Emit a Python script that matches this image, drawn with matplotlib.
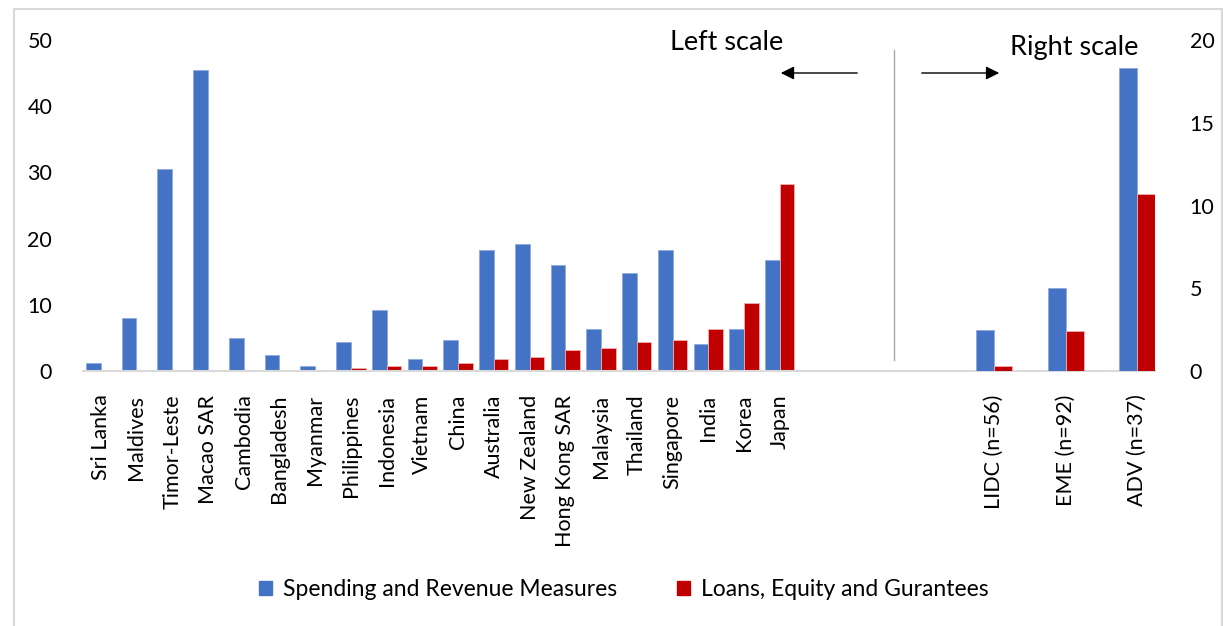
import matplotlib.pyplot as plt
import matplotlib.patches as mpatches
import numpy as np

plt.rcParams['font.family'] = ['Lato', 'DejaVu Sans']

# countries on the left scale
countries = ['Sri Lanka', 'Maldives', 'Timor-Leste', 'Macao SAR', 'Cambodia', 'Bangladesh',
             'Myanmar', 'Philippines', 'Indonesia', 'Vietnam', 'China', 'Australia',
             'New Zealand', 'Hong Kong SAR', 'Malaysia', 'Thailand', 'Singapore', 'India',
             'Korea', 'Japan']
spending = [1.2, 8.0, 30.5, 45.4, 5.0, 2.4, 0.8, 4.4, 9.2, 1.8, 4.7, 18.3,
            19.2, 16.0, 6.3, 14.8, 18.3, 4.1, 6.3, 16.7]
loans = [0.0, 0.0, 0.0, 0.0, 0.05, 0.05, 0.05, 0.45, 0.8, 0.75, 1.15, 1.8,
         2.1, 3.1, 3.4, 4.4, 4.7, 6.3, 10.2, 28.3]

# country groups on the right scale
groups = ['LIDC (n=56)', 'EME (n=92)', 'ADV (n=37)']
group_spending = [2.5, 5.0, 18.3]
group_loans = [0.3, 2.4, 10.7]

# category axis as in the spreadsheet: blank slots between the two blocks
categories = countries + [''] * 5 + [groups[0], '', groups[1], '', groups[2]]

blue = '#4472C4'
red = '#C00000'

fig = plt.figure(figsize=(12.23, 6.26), dpi=100)
W, H = 1223, 626
ax = fig.add_axes([82.8 / W, 1 - 371 / H, (1155 - 82.8) / W, (371 - 40) / H])
ax2 = ax.twinx()

xl = np.arange(len(countries))
xr = np.array([categories.index(g) for g in groups])

w = 0.41
ax.bar(xl, spending, width=-w, align='edge', color=blue, edgecolor='#8faadc', linewidth=0.6)
ax.bar(xl, loans, width=w, align='edge', color=red, edgecolor='#f4b0b0', linewidth=0.6)
w2 = 0.5
ax2.bar(xr, group_spending, width=-w2, align='edge', color=blue, edgecolor='#8faadc', linewidth=0.6)
ax2.bar(xr, group_loans, width=w2, align='edge', color=red, edgecolor='#f4b0b0', linewidth=0.6)

ax.set_xlim(-0.5, len(categories) - 0.5)
ax.set_ylim(0, 50)
ax2.set_ylim(0, 20)
ax.set_yticks([0, 10, 20, 30, 40, 50])
ax2.set_yticks([0, 5, 10, 15, 20])
ax.set_xticks(np.arange(len(categories)))
ax.set_xticklabels(categories, rotation=90, fontsize=15.5, va='top', ha='center')

for a in (ax, ax2):
    for s in a.spines.values():
        s.set_visible(False)
    a.tick_params(length=0, labelsize=15.5)
ax.spines['bottom'].set_visible(True)
ax.spines['bottom'].set_color('#d9d9d9')
ax.spines['bottom'].set_linewidth(1.5)
ax.tick_params(axis='y', pad=22)
ax.tick_params(axis='x', pad=17)
ax2.tick_params(axis='y', pad=25)

# separator and scale annotations (figure pixel coords)
def fx(px):
    return px / W

def fy(py):
    return 1 - py / H

fig.add_artist(plt.Line2D([fx(894), fx(894)], [fy(50), fy(360)], color='#a6a6a6', lw=1))
fig.text(fx(727), fy(42), 'Left scale', fontsize=19.5, ha='center', va='center')
fig.text(fx(1074), fy(48), 'Right scale', fontsize=19.5, ha='center', va='center')
fig.add_artist(mpatches.FancyArrowPatch((fx(860), fy(73)), (fx(778), fy(73)),
                                        transform=fig.transFigure, arrowstyle='-|>',
                                        mutation_scale=20, color='black', lw=1))
fig.add_artist(mpatches.FancyArrowPatch((fx(919), fy(73)), (fx(1002), fy(73)),
                                        transform=fig.transFigure, arrowstyle='-|>',
                                        mutation_scale=20, color='black', lw=1))

# outer chart border
fig.add_artist(mpatches.Rectangle((fx(14), fy(640)), fx(1222 - 14), (640 - 9) / H,
                                  transform=fig.transFigure, fill=False,
                                  edgecolor='#d9d9d9', lw=1.5))

handles = [mpatches.Patch(color=blue, label='Spending and Revenue Measures'),
           mpatches.Patch(color=red, label='Loans, Equity and Gurantees')]
fig.legend(handles=handles, loc='center', bbox_to_anchor=(fx(624), fy(590)), ncol=2,
           frameon=False, fontsize=16.5, handlelength=0.55, handleheight=0.55,
           handletextpad=0.5, columnspacing=2.6)

fig.savefig('out.png', dpi=100)
